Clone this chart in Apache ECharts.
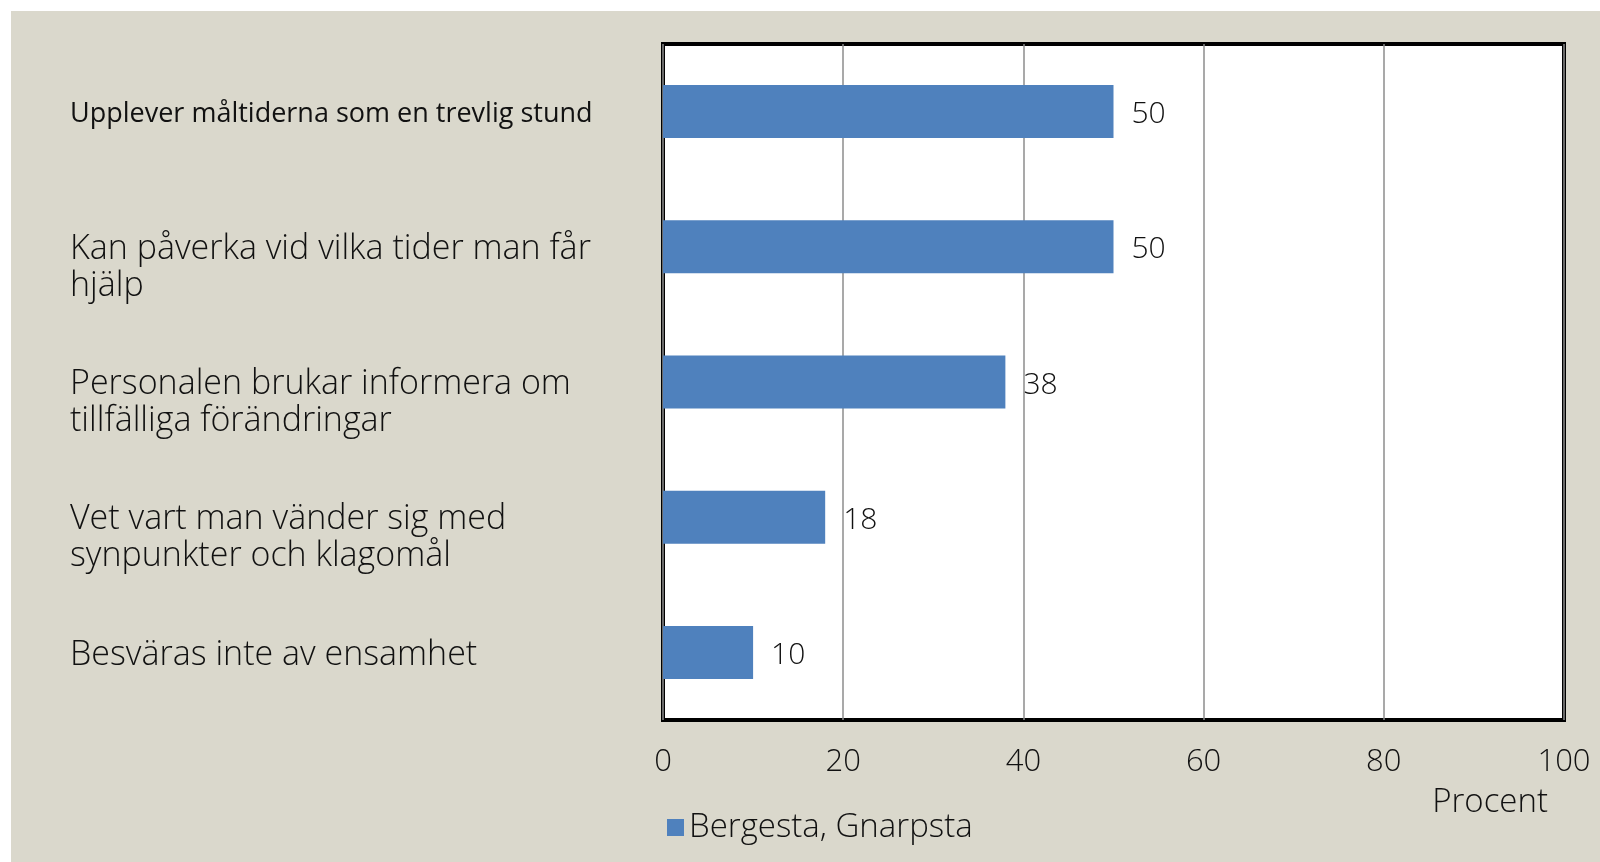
<!DOCTYPE html>
<html>
<head>
<meta charset="utf-8">
<script src="https://cdn.jsdelivr.net/npm/echarts@6/dist/echarts.min.js"></script>
<style>
  html, body { margin: 0; padding: 0; background: #ffffff; }
  #chart-container { width: 1600px; height: 862px; }
</style>
</head>
<body>
<div id="chart-container"></div>
<script>
// kategorier (uppifrån och ned i diagrammet)
var kategorier = [
  'Upplever måltiderna som en trevlig stund',
  'Kan påverka vid vilka tider man får\nhjälp',
  'Personalen brukar informera om\ntillfälliga förändringar',
  'Vet vart man vänder sig med\nsynpunkter och klagomål',
  'Besväras inte av ensamhet'
];
var serieNamn = 'Bergesta, Gnarpsta';
var procent = [50, 50, 38, 18, 10];
var xTicks = [0, 20, 40, 60, 80, 100];

var labelFont = '"Open Sans", Lato, sans-serif';
var labelWeight = 300;

var dom = document.getElementById('chart-container');
var myChart = echarts.init(dom, null, { renderer: 'canvas' });

var option = {
  backgroundColor: '#ffffff',
  animation: false,
  graphic: [
    {
      type: 'rect',
      silent: true,
      z: -10,
      shape: { x: 11, y: 11, width: 1589, height: 851 },
      style: { fill: '#dad8cc' }
    }
  ],
  legend: {
    left: 662,
    top: 806,
    itemWidth: 17,
    itemHeight: 17,
    itemGap: 6,
    icon: 'rect',
    textStyle: { fontFamily: labelFont, fontWeight: labelWeight, fontSize: 33, color: '#111' },
    data: [serieNamn]
  },
  grid: {
    left: 663,
    right: 36,
    top: 44,
    bottom: 142,
    show: true,
    backgroundColor: '#ffffff',
    borderColor: '#000000',
    borderWidth: 4,
    containLabel: false
  },
  xAxis: {
    type: 'value',
    min: xTicks[0],
    max: xTicks[xTicks.length - 1],
    interval: xTicks[1] - xTicks[0],
    name: 'Procent',
    nameLocation: 'end',
    nameGap: -16,
    nameTextStyle: {
      fontFamily: labelFont,
      fontWeight: labelWeight,
      fontSize: 33,
      color: '#111',
      align: 'right',
      verticalAlign: 'top',
      padding: [66, 0, 0, 0]
    },
    axisLine: { show: false },
    axisTick: { show: false },
    axisLabel: {
      margin: 27,
      fontFamily: labelFont,
      fontWeight: labelWeight,
      fontSize: 31,
      color: '#111'
    },
    splitLine: { lineStyle: { color: '#8c8c8c', width: 1.5 } }
  },
  yAxis: {
    type: 'category',
    inverse: true,
    data: kategorier,
    axisLine: { show: false },
    axisTick: { show: false },
    axisLabel: {
      align: 'left',
      margin: 593,
      lineHeight: 37,
      padding: [5, 0, 0, 0],
      fontFamily: labelFont,
      fontWeight: labelWeight,
      fontSize: 34,
      color: '#111',
      formatter: function (value, index) {
        // första raden i etiketten ska ligga mitt för stapeln
        var rader = value.split('\n');
        var pad = '';
        for (var i = 1; i < rader.length; i++) pad += '\n';
        if (index === 0) {
          return '{calibri|' + value + '}';
        }
        return pad + value;
      },
      rich: {
        calibri: {
          fontFamily: '"Open Sans", "Liberation Sans", sans-serif',
          fontSize: 27,
          fontWeight: 500,
          color: '#111'
        }
      }
    }
  },
  series: [
    {
      name: serieNamn,
      type: 'bar',
      data: procent,
      barWidth: 53,
      itemStyle: { color: '#4f81bd' },
      label: {
        show: true,
        position: 'right',
        distance: 18,
        offset: [0, 3],
        fontFamily: labelFont,
        fontWeight: labelWeight,
        fontSize: 30,
        color: '#111'
      }
    }
  ]
};

myChart.setOption(option);
window.addEventListener('resize', myChart.resize);
</script>
</body>
</html>
